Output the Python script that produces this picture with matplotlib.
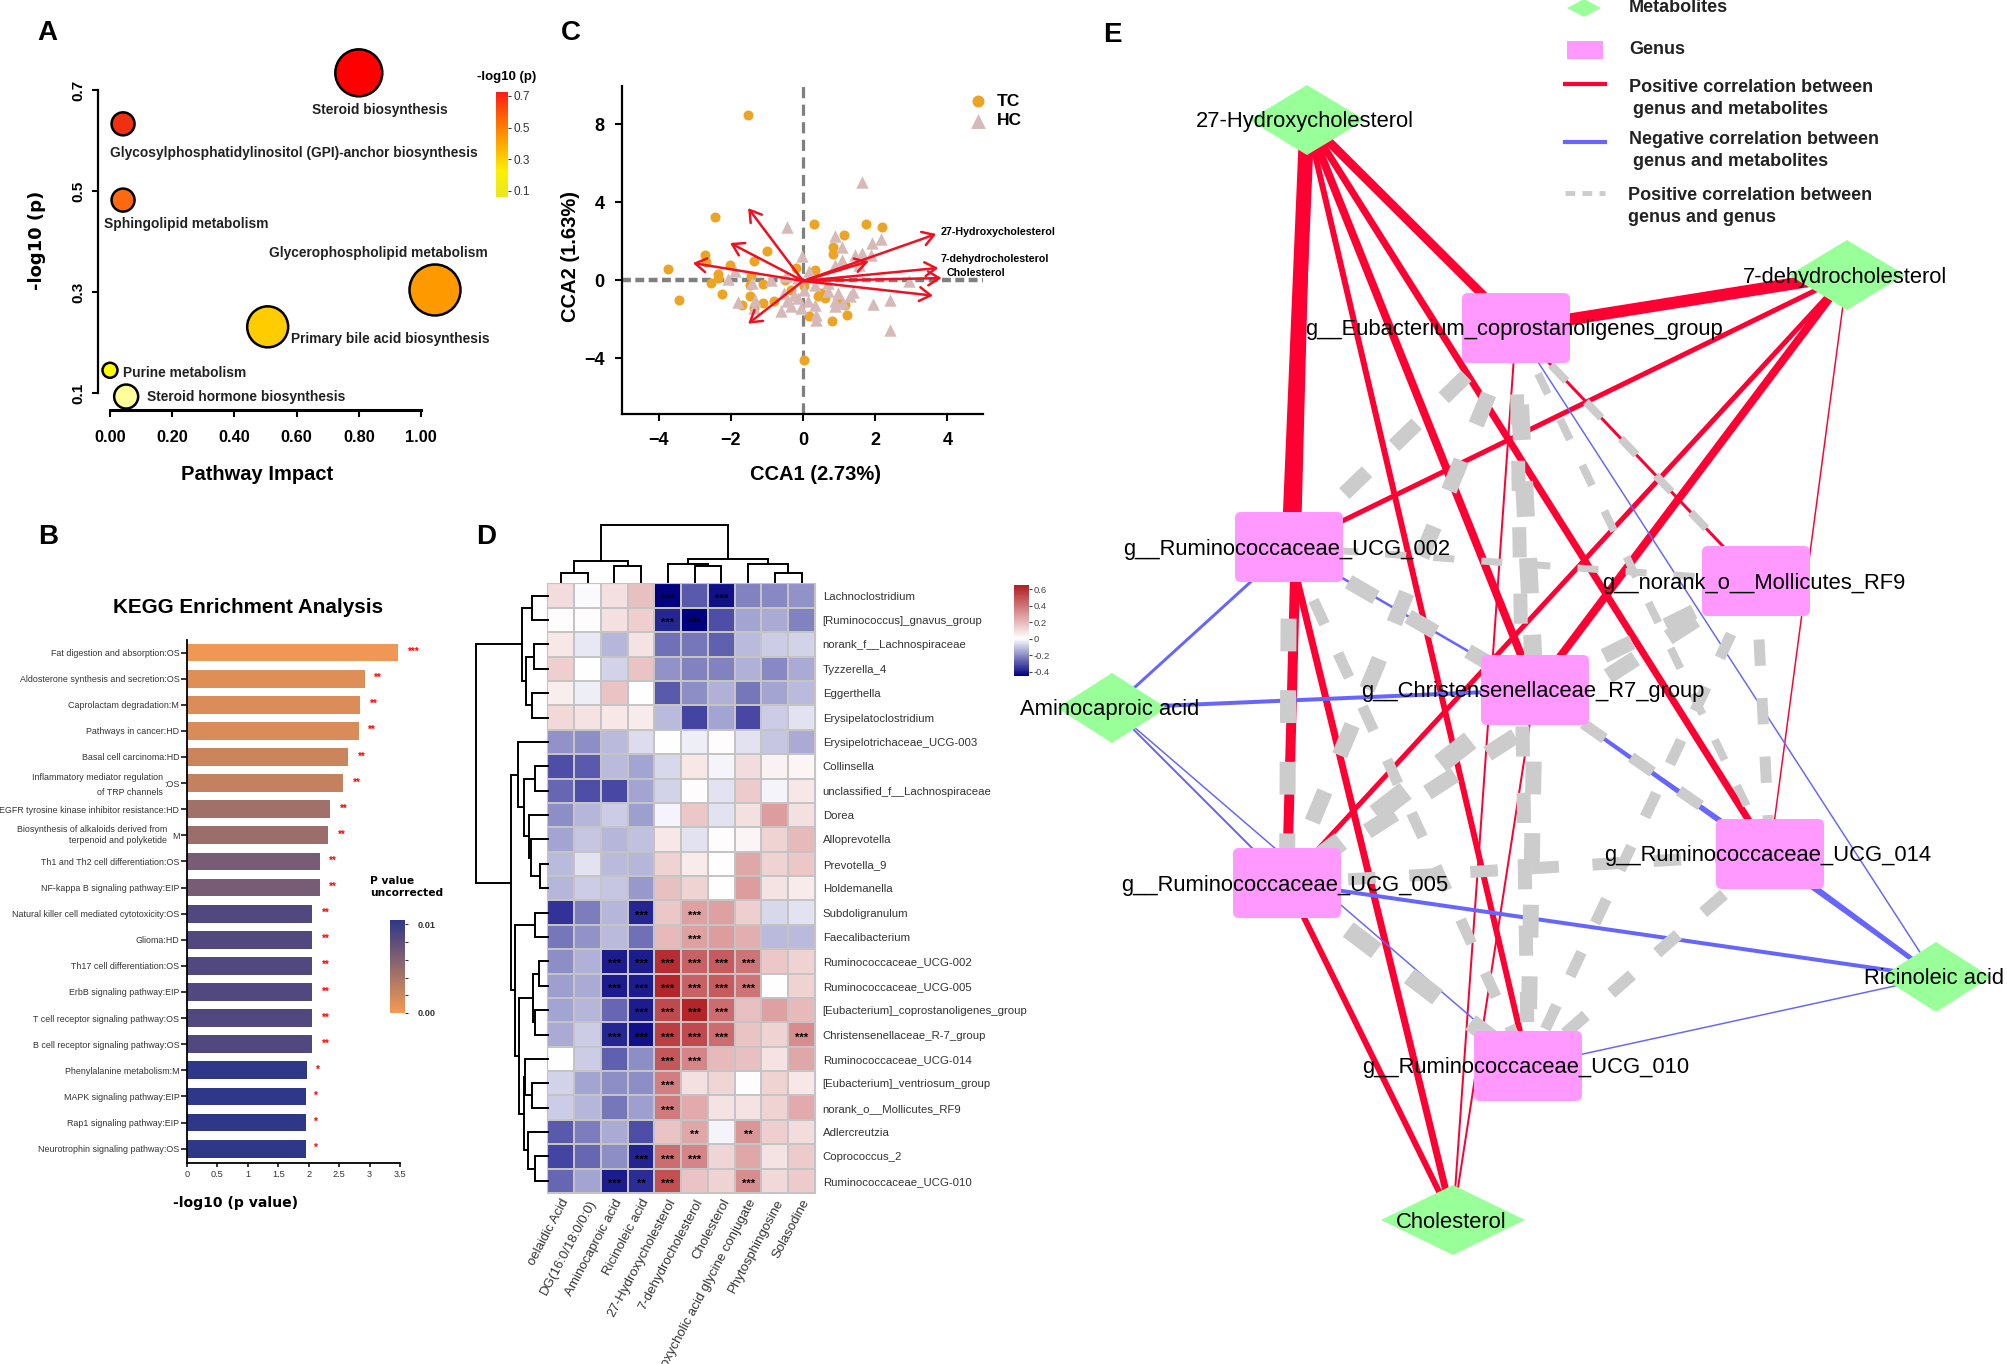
import numpy as np
import matplotlib
matplotlib.use("Agg")
import matplotlib.pyplot as plt
from matplotlib.cm import ScalarMappable
from matplotlib.colors import LinearSegmentedColormap, Normalize, TwoSlopeNorm
from matplotlib.patches import FancyBboxPatch, Polygon

W, H = 2008, 1364
plt.rcParams["font.family"] = ["Liberation Sans", "DejaVu Sans"]

# --- panel A
path_names = ["Steroid biosynthesis", "Glycosylphosphatidylinositol (GPI)-anchor biosynthesis",
              "Sphingolipid metabolism", "Glycerophospholipid metabolism",
              "Primary bile acid biosynthesis", "Purine metabolism", "Steroid hormone biosynthesis"]
path_impact = [0.80, 0.042, 0.042, 1.045, 0.507, 0.0, 0.052]
path_logp = [0.734, 0.633, 0.482, 0.304, 0.231, 0.145, 0.093]
path_diam = [47, 23, 23, 51, 41, 15, 24]
path_colors = ["#ff0000", "#f03010", "#ff6a10", "#ff9900", "#ffcc00", "#ffff00", "#ffff99"]
path_label_xy = [(312, 110), (110, 153), (104, 224), (269, 253), (291, 339), (123, 373), (147, 397)]

# --- panel B
kegg_names = ["Fat digestion and absorption:OS", "Aldosterone synthesis and secretion:OS",
              "Caprolactam degradation:M", "Pathways in cancer:HD", "Basal cell carcinoma:HD",
              ":OS", "EGFR tyrosine kinase inhibitor resistance:HD", "M",
              "Th1 and Th2 cell differentiation:OS", "NF-kappa B signaling pathway:EIP",
              "Natural killer cell mediated cytotoxicity:OS", "Glioma:HD",
              "Th17 cell differentiation:OS", "ErbB signaling pathway:EIP",
              "T cell receptor signaling pathway:OS", "B cell receptor signaling pathway:OS",
              "Phenylalanine metabolism:M", "MAPK signaling pathway:EIP",
              "Rap1 signaling pathway:EIP", "Neurotrophin signaling pathway:OS"]
kegg_values = [3.46, 2.92, 2.85, 2.82, 2.65, 2.57, 2.35, 2.32, 2.18, 2.18,
               2.06, 2.06, 2.06, 2.06, 2.06, 2.06, 1.98, 1.95, 1.95, 1.95]
kegg_stars = ["***"] + ["**"] * 15 + ["*"] * 4

# --- panel C
tc_x = [-1.52, -2.45, 0.30, 1.74, 2.19, 1.14, 0.82, 0.82, -0.99, -1.37, -2.72, -2.68, -2.02, -3.75,
        -2.36, -2.36, -2.55, -2.25, -3.43, -1.44, -1.46, -1.12, -0.49, -1.46, -1.70, -1.12, -1.37,
        -0.81, 0.02, 0.17, 0.81, 1.22, -0.19, 0.32, 0.51, 0.60, 0.97, 0.04, 0.41, -0.34, 1.16, 1.54]
tc_y = [8.44, 3.25, 2.87, 2.87, 2.72, 2.32, 1.69, 1.35, 1.47, 0.99, 1.30, 0.92, 0.75, 0.58,
        0.32, 0.10, -0.15, -0.72, -1.01, 0.19, -0.24, -0.19, -0.02, -0.80, -1.26, -1.18, -1.44,
        -1.09, -4.10, -1.86, -2.12, -1.78, 0.62, 0.50, -0.67, -0.92, -1.09, -0.32, -0.84, -0.50, -1.26, 0.96]
hc_x = [1.63, -0.43, 0.90, 2.17, 1.91, 1.07, -0.04, 1.87, 1.63, 1.44, 1.07, 0.88, 1.54, 0.17, -1.89,
        -2.08, -1.42, -0.90, -0.47, -0.15, 0.22, 2.94, 0.69, 0.32, 0.04, -0.52, -0.24, -0.43, -0.15,
        0.13, 0.69, 0.97, 1.39, 1.31, 0.88, 1.12, 0.88, 0.32, -0.34, -0.62, -1.80, -1.33, -1.37,
        1.95, 2.42, 2.42, 0.37, 0.37, -0.06]
hc_y = [5.03, 2.72, 2.27, 2.10, 1.90, 1.69, 1.21, 1.26, 1.38, 1.30, 1.04, 0.75, 0.79, 0.44, 0.44,
        0.05, -0.15, 0.02, 0.22, 0.10, 0.19, -0.03, -0.15, -0.24, -0.50, -0.67, -0.75, -1.09, -0.92,
        -1.09, -0.58, -0.67, -0.63, -0.80, -1.09, -1.18, -1.35, -1.26, -1.35, -1.61, -1.15, -1.01, -1.44,
        -1.23, -1.04, -2.55, -1.78, -2.03, -1.44]
arrow_x = [3.69, 3.75, 3.84, 3.60, -1.52, -2.02, -3.05, -1.52, 1.82]
arrow_y = [2.36, 0.62, 0.10, -0.80, 3.69, 1.90, 0.87, -2.24, 0.96]

# --- panel D
genus_rows = ["Lachnoclostridium", "[Ruminococcus]_gnavus_group", "norank_f__Lachnospiraceae", "Tyzzerella_4",
              "Eggerthella", "Erysipelatoclostridium", "Erysipelotrichaceae_UCG-003", "Collinsella",
              "unclassified_f__Lachnospiraceae", "Dorea", "Alloprevotella", "Prevotella_9", "Holdemanella",
              "Subdoligranulum", "Faecalibacterium", "Ruminococcaceae_UCG-002", "Ruminococcaceae_UCG-005",
              "[Eubacterium]_coprostanoligenes_group", "Christensenellaceae_R-7_group", "Ruminococcaceae_UCG-014",
              "[Eubacterium]_ventriosum_group", "norank_o__Mollicutes_RF9", "Adlercreutzia", "Coprococcus_2",
              "Ruminococcaceae_UCG-010"]
metab_cols = ["oelaidic Acid", "DG(16:0/18:0/0:0)", "Aminocaproic acid", "Ricinoleic acid",
              "27-Hydroxycholesterol", "7-dehydrocholesterol", "Cholesterol",
              "Deoxycholic acid glycine conjugate", "Phytosphingosine", "Solasodine"]
corr = np.array([
    [.10, -.01, .09, .18, -.45, -.29, -.42, -.22, -.21, -.19],
    [.01, .01, .09, .14, -.38, -.45, -.31, -.16, -.15, -.22],
    [.07, -.04, -.13, .08, -.25, -.24, -.28, -.12, -.09, -.08],
    [.14, 0, -.08, .17, -.19, -.22, -.22, -.14, -.21, -.15],
    [.05, -.03, .17, 0, -.29, -.20, -.14, -.24, -.16, -.12],
    [.11, .08, .07, .06, -.12, -.33, -.16, -.32, -.09, -.05],
    [-.19, -.20, -.12, -.06, 0, -.03, .01, -.05, -.10, -.15],
    [-.31, -.29, -.12, -.16, -.07, .07, -.02, .10, .04, .03],
    [-.27, -.31, -.32, -.16, -.08, .01, -.05, .15, -.02, .07],
    [-.20, -.13, -.09, -.17, -.02, .16, -.05, .09, .28, .09],
    [-.16, -.10, -.13, -.11, .07, -.05, .01, .03, .13, .20],
    [-.12, -.05, -.12, -.13, .13, .06, 0, .25, .13, .16],
    [-.13, -.09, -.10, -.18, .18, .13, 0, .28, .08, .06],
    [-.36, -.23, -.13, -.38, .16, .27, .27, .14, -.07, -.05],
    [-.24, -.19, -.12, -.25, .20, .27, .28, .23, -.12, -.12],
    [-.20, -.14, -.40, -.40, .60, .45, .47, .40, .16, .13],
    [-.17, -.15, -.40, -.40, .62, .45, .47, .40, 0, .13],
    [-.16, -.13, -.27, -.40, .52, .62, .42, .18, .27, .20],
    [-.15, -.09, -.38, -.42, .55, .52, .42, .17, .13, .33],
    [0, -.09, -.28, -.20, .48, .35, .20, .18, .08, .25],
    [-.08, -.16, -.20, -.20, .37, .09, .12, .01, .13, .07],
    [-.09, -.13, -.24, -.17, .38, .24, .08, .08, .13, .24],
    [-.29, -.23, -.15, -.31, .17, .25, -.02, .30, .14, .10],
    [-.33, -.27, -.20, -.39, .42, .35, .12, .25, .08, .15],
    [-.27, -.16, -.40, -.37, .50, .17, .13, .33, .11, .15],
])
# (row, column, stars)
sig_cells = [(0, 4, "***"), (0, 6, "***"), (1, 4, "***"), (1, 5, "***"), (13, 3, "***"), (13, 5, "***"),
             (14, 5, "***"), (15, 2, "***"), (15, 3, "***"), (15, 4, "***"), (15, 5, "***"), (15, 6, "***"),
             (15, 7, "***"), (16, 2, "***"), (16, 3, "***"), (16, 4, "***"), (16, 5, "***"), (16, 6, "***"),
             (16, 7, "***"), (17, 3, "***"), (17, 4, "***"), (17, 5, "***"), (17, 6, "***"), (18, 2, "***"),
             (18, 3, "***"), (18, 4, "***"), (18, 5, "***"), (18, 6, "***"), (18, 9, "***"), (19, 4, "***"),
             (19, 5, "***"), (20, 4, "***"), (21, 4, "***"), (22, 5, "**"), (22, 7, "**"), (23, 3, "***"),
             (23, 4, "***"), (23, 5, "***"), (24, 2, "***"), (24, 3, "**"), (24, 4, "***"), (24, 7, "***")]
# dendrogram merges: (child, child, height), new nodes are numbered after the leaves
col_merges = [(0, 1, 17), (2, 3, 30), (10, 11, 38), (5, 6, 30), (4, 13, 33), (8, 9, 17), (7, 15, 33),
              (14, 16, 43), (12, 17, 105)]
row_merges = [(0, 1, 40), (2, 3, 36), (4, 5, 40), (26, 27, 57), (25, 28, 66), (7, 8, 34), (11, 12, 19),
              (10, 31, 44), (9, 32, 48), (30, 33, 62), (6, 34, 77), (13, 14, 32), (15, 16, 21), (17, 18, 34),
              (37, 38, 39), (20, 21, 41), (19, 40, 59), (23, 24, 34), (22, 42, 52), (41, 43, 62), (39, 44, 74),
              (36, 45, 84), (35, 46, 96), (29, 47, 187)]

# --- panel E, layout in image pixels
metab_nodes = {"27-Hydroxycholesterol": (1307, 120), "7-dehydrocholesterol": (1847, 275),
               "Aminocaproic acid": (1112, 708), "Ricinoleic acid": (1936, 977), "Cholesterol": (1453, 1220)}
metab_halfw = [58, 58, 55, 55, 72]
genus_nodes = {"g__Eubacterium_coprostanoligenes_group": (1516, 328), "g__Ruminococcaceae_UCG_002": (1289, 547),
               "g__norank_o__Mollicutes_RF9": (1756, 581), "g__Christensenellaceae_R7_group": (1535, 690),
               "g__Ruminococcaceae_UCG_014": (1770, 854), "g__Ruminococcaceae_UCG_005": (1287, 883),
               "g__Ruminococcaceae_UCG_010": (1528, 1066)}
EU, R2, MO, CH, R14, R5, R10 = list(genus_nodes)
H27, D7, AM, RI, CO = list(metab_nodes)
red_edges = [(H27, EU, 9), (H27, R2, 15), (H27, R5, 10), (H27, CH, 8), (H27, R14, 7), (H27, R10, 6),
             (D7, EU, 12), (D7, R2, 5), (D7, R5, 5), (D7, CH, 8), (D7, R14, 1.5), (EU, MO, 3),
             (R2, CO, 7), (R5, CO, 6), (CH, CO, 2), (EU, CO, 2)]
blue_edges = [(AM, R2, 3), (AM, CH, 4), (AM, R5, 2), (AM, R10, 1.5), (R2, CH, 2.5), (CH, R14, 3),
              (CH, RI, 3), (R14, RI, 5), (EU, RI, 1.5), (R5, RI, 4), (R10, RI, 1.5)]
gray_edges = [(EU, R2, 15), (EU, R5, 16), (EU, CH, 18), (EU, R10, 14), (EU, R14, 8), (EU, MO, 8),
              (R2, MO, 7), (R2, CH, 15), (R2, R5, 16), (R2, R10, 11), (MO, CH, 15), (MO, R5, 16),
              (MO, R10, 11), (MO, R14, 11), (CH, R5, 20), (CH, R14, 11), (CH, R10, 16), (R5, R14, 12),
              (R5, R10, 18), (R14, R10, 12)]


def px_axes(x0, y0, x1, y1):
    return fig.add_axes([x0 / W, 1 - y1 / H, (x1 - x0) / W, (y1 - y0) / H])


def ptext(x, y, s, **kw):
    kw.setdefault("va", "center")
    return fig.text(x / W, 1 - y / H, s, **kw)


def draw_dendro(ax, merges, n, left=False):
    pos = list(np.arange(n) + 0.5)
    hgt = [0] * n
    for a, b, h in merges:
        xs, ys = [pos[a], pos[a], pos[b], pos[b]], [hgt[a], h, h, hgt[b]]
        if left:
            xs, ys = ys, xs
        ax.plot(xs, ys, color="black", lw=1.4, solid_joinstyle="miter", clip_on=False)
        pos.append((pos[a] + pos[b]) / 2)
        hgt.append(h)
    ax.axis("off")


fig = plt.figure(figsize=(W / 100, H / 100), dpi=100, facecolor="white")

for letter, lx, ly in [("A", 47, 33), ("B", 48, 537), ("C", 571, 33), ("D", 486, 537), ("E", 1112, 35)]:
    ptext(lx, ly, letter, fontsize=20, fontweight="bold", ha="center")

# A: pathway bubbles
ax = px_axes(110, 90, 421, 393)
ax.set_xlim(0, 1)
ax.set_ylim(0.1, 0.7)
ax.scatter(path_impact, path_logp, s=[(d * 0.72) ** 2 for d in path_diam], c=path_colors,
           edgecolors="black", linewidths=1.8, clip_on=False, zorder=3)
for s, (lx, ly) in zip(path_names, path_label_xy):
    ptext(lx, ly, s, fontsize=9.9, fontweight="bold", color="#222222")
for side in ["top", "right"]:
    ax.spines[side].set_visible(False)
ax.spines["left"].set_position(("outward", 8.6))
ax.spines["bottom"].set_position(("outward", 12))
ax.spines["left"].set_bounds(0.1, 0.7)
ax.spines["left"].set_linewidth(1.6)
ax.spines["bottom"].set_linewidth(2.2)
ax.set_xticks([0, 0.2, 0.4, 0.6, 0.8, 1.0], ["0.00", "0.20", "0.40", "0.60", "0.80", "1.00"],
              fontsize=11.8, fontweight="bold")
ax.set_yticks([0.1, 0.3, 0.5, 0.7], ["0.1", "0.3", "0.5", "0.7"], fontsize=11, fontweight="bold",
              rotation=90, va="center")
ax.tick_params(axis="x", length=5, width=1.5, pad=10)
ax.tick_params(axis="y", length=4, width=1.5, pad=5)
ptext(37, 240, "-log10 (p)", fontsize=13, fontweight="bold", rotation=90, ha="center", family="DejaVu Sans")
ptext(257, 475, "Pathway Impact", fontsize=14.5, fontweight="bold", ha="center")

cax = px_axes(496, 92, 508, 197)
cmap_a = LinearSegmentedColormap.from_list("a", ["#e8e820", "#ffee00", "#ffaa00", "#ff6600", "#ff1a1a"])
cb = fig.colorbar(ScalarMappable(Normalize(0.062, 0.725), cmap_a), cax=cax)
cb.outline.set_visible(False)
cb.set_ticks([0.1, 0.3, 0.5, 0.7], labels=["0.1", "0.3", "0.5", "0.7"], fontsize=8.5)
cb.ax.tick_params(length=2, pad=2, colors="#333333")
ptext(507, 77, "-log10 (p)", fontsize=9.5, fontweight="bold", ha="center")

# B: KEGG bars
ax = px_axes(187, 640, 400, 1163)
kegg_norm = Normalize(0, 0.0105)
cmap_b = LinearSegmentedColormap.from_list("b", ["#f59a52", "#2f3788"])
ypos = np.arange(len(kegg_values))
kegg_p = 10.0 ** (-np.array(kegg_values))
ax.barh(ypos, kegg_values, height=0.68, color=cmap_b(kegg_norm(kegg_p)))
for y, v, st in zip(ypos, kegg_values, kegg_stars):
    ax.text(v + 0.12 + 0.05 * len(st), y - 0.02, st, color="red", fontsize=7, fontweight="bold",
            ha="center", va="center")
ax.set_xlim(0, 3.5)
ax.set_ylim(19.55, -0.48)
ax.set_yticks(ypos, kegg_names, fontsize=6.4, color="#333333")
ax.set_xticks([0, 0.5, 1, 1.5, 2, 2.5, 3, 3.5], ["0", "0.5", "1", "1.5", "2", "2.5", "3", "3.5"],
              fontsize=6.6, color="#333333")
ax.tick_params(axis="y", length=4.3, width=1.1, pad=1.2)
ax.tick_params(axis="x", length=3, width=1.1, pad=2)
for side in ["top", "right"]:
    ax.spines[side].set_visible(False)
for side in ["left", "bottom"]:
    ax.spines[side].set_linewidth(1.3)
ptext(163, 785, "Inflammatory mediator regulation\nof TRP channels", fontsize=6.4, ha="right",
      color="#333333", linespacing=1.9)
ptext(167, 835, "Biosynthesis of alkaloids derived from\nterpenoid and polyketide", fontsize=6.4, ha="right",
      color="#333333", linespacing=1.15)
ptext(248, 607, "KEGG Enrichment Analysis", fontsize=14.9, fontweight="bold", ha="center")
ptext(236, 1203, "-log10 (p value)", fontsize=10.1, fontweight="bold", ha="center", family="DejaVu Sans")
ptext(370, 887, "P value\nuncorrected", fontsize=7.7, fontweight="bold", family="DejaVu Sans")

cax = px_axes(390, 920, 405, 1013)
cb = fig.colorbar(ScalarMappable(kegg_norm, cmap_b), cax=cax)
cb.outline.set_visible(False)
cb.set_ticks([0, 0.002, 0.004, 0.006, 0.008, 0.01], labels=["0.00", "", "", "", "", "0.01"],
             fontsize=6.6, fontweight="bold")
cb.ax.tick_params(length=2, pad=7, colors="#333333")

# C: CCA scatter
ax = px_axes(622.5, 86, 983.5, 414)
ax.set_xlim(-5, 5)
ax.set_ylim(-6.87, 9.95)
ax.axhline(0, color="#808080", lw=3.2, ls=(0, (2, 1)), zorder=1)
ax.axvline(0, color="#808080", lw=2.3, ls=(0, (3.5, 2)), zorder=1)
ax.scatter(tc_x, tc_y, s=52, c="#eba423", linewidths=0, label="TC", zorder=2)
ax.scatter(hc_x, hc_y, s=80, c="#d7b9b9", marker="^", linewidths=0, label="HC", zorder=3)
for ex, ey in zip(arrow_x, arrow_y):
    ax.annotate("", xy=(ex, ey), xytext=(0, -0.05), zorder=4,
                arrowprops=dict(arrowstyle="->,head_length=0.8,head_width=0.5", color="#f01020", lw=1.8,
                                shrinkA=0, shrinkB=0))
for s, tx, ty in [("27-Hydroxycholesterol", 3.82, 2.46), ("7-dehydrocholesterol", 3.82, 1.07),
                  ("Cholesterol", 3.97, 0.36)]:
    ax.text(tx, ty, s, fontsize=7.7, fontweight="bold", va="center", clip_on=False)
for side in ["top", "right"]:
    ax.spines[side].set_visible(False)
for side in ["left", "bottom"]:
    ax.spines[side].set_linewidth(1.6)
ax.set_xticks([-4, -2, 0, 2, 4])
ax.set_yticks([-4, 0, 4, 8])
ax.tick_params(length=5, width=1.5, pad=8, labelsize=13)
for t in ax.get_xticklabels() + ax.get_yticklabels():
    t.set_fontweight("bold")
ax.legend(loc="center left", bbox_to_anchor=(952 / W, 1 - 111 / H), bbox_transform=fig.transFigure,
          frameon=False, markerscale=1.2, handletextpad=0.1, labelspacing=0.25, borderpad=0,
          prop=dict(weight="bold", size=12.5))
ptext(571, 256, "CCA2 (1.63%)", fontsize=14.5, fontweight="bold", rotation=90, ha="center")
ptext(816, 475, "CCA1 (2.73%)", fontsize=14.5, fontweight="bold", ha="center")

# D: heatmap
ax = px_axes(547.5, 583.5, 815, 1193)
cmap_d = LinearSegmentedColormap.from_list("d", ["#000080", "white", "#b01c20"])
norm_d = TwoSlopeNorm(vmin=-0.45, vcenter=0, vmax=0.65)
ax.pcolormesh(np.arange(11), np.arange(26), corr, cmap=cmap_d, norm=norm_d, edgecolors="#c4c4c4", linewidth=1.1)
ax.set_ylim(25, 0)
for r, c, st in sig_cells:
    ax.text(c + 0.5, r + 0.62, st, fontsize=8, ha="center", va="center", color="black", fontweight="bold")
ax.set_yticks(np.arange(25) + 0.5, genus_rows, fontsize=8.2, color="#333333")
ax.yaxis.tick_right()
ax.set_xticks(np.arange(10) + 0.5, metab_cols, fontsize=9.5, color="#333333", rotation=62, ha="right",
              va="top", rotation_mode="anchor")
ax.tick_params(axis="y", length=0, pad=5.5)
ax.tick_params(axis="x", length=0, pad=3)
for sp in ax.spines.values():
    sp.set_color("#c4c4c4")

dax = px_axes(547.5, 525, 815, 582)
draw_dendro(dax, col_merges, 10)
dax.set_xlim(0, 10)
dax.set_ylim(0, 105)

dax = px_axes(476, 583.5, 547.5, 1193)
draw_dendro(dax, row_merges, 25, left=True)
dax.set_ylim(25, 0)
dax.set_xlim(187, 0)

cax = px_axes(1013.6, 584.6, 1029, 676)
grad = np.linspace(-0.45, 0.65, 200)
cax.pcolormesh([0, 1], np.append(grad, 0.655), grad[:, None], cmap=cmap_d, norm=norm_d)
cax.set_xticks([])
cax.yaxis.tick_right()
cax.set_yticks([-0.4, -0.2, 0, 0.2, 0.4, 0.6], ["-0.4", "-0.2", "0", "0.2", "0.4", "0.6"], fontsize=6.8)
cax.tick_params(length=2, pad=1, colors="#444444")
for sp in cax.spines.values():
    sp.set_visible(False)

# E: network, axes are in image pixels
ax = px_axes(1040, 0, 2008, 1364)
ax.set_xlim(1040, 2008)
ax.set_ylim(1364, 0)
ax.axis("off")
ax.patch.set_alpha(0)
nodes = {**metab_nodes, **genus_nodes}
RED, BLUE, GRAY = "#ff0033", "#6666ff", "#cccccc"
for a, b, w in red_edges:
    ax.plot(*zip(nodes[a], nodes[b]), color=RED, lw=w * 0.72, solid_capstyle="butt", zorder=2)
for a, b, w in blue_edges:
    ax.plot(*zip(nodes[a], nodes[b]), color=BLUE, lw=w * 0.72, solid_capstyle="butt", zorder=2)
for a, b, w in gray_edges:
    on, off = (12 + 1.3 * w) / w, (18 + 1.3 * w) / w
    ax.plot(*zip(nodes[a], nodes[b]), color=GRAY, lw=w * 0.72, ls=(0, (on, off)), dash_capstyle="butt", zorder=3)
for (nx, ny), hw in zip(metab_nodes.values(), metab_halfw):
    ax.add_patch(Polygon([(nx - hw, ny), (nx, ny - 35), (nx + hw, ny), (nx, ny + 35)], fc="#99ff99", ec="none", zorder=4))
for nx, ny in genus_nodes.values():
    ax.add_patch(FancyBboxPatch((nx - 50, ny - 31), 100, 62, boxstyle="round,pad=4,rounding_size=6",
                                fc="#ff99ff", ec="none", zorder=4))
for s, (nx, ny) in nodes.items():
    ax.text(nx - 2, ny + 2, s, fontsize=15.8, ha="center", va="center", color="black", zorder=5)

# E legend
ax.add_patch(Polygon([(1567, 8), (1584, -1), (1601, 8), (1584, 17)], fc="#99ff99", ec="none", clip_on=True))
ax.add_patch(Polygon([(1567, 41), (1603, 41), (1603, 59), (1567, 59)], fc="#ff99ff", ec="none"))
ax.plot([1565, 1605], [84, 84], color=RED, lw=3)
ax.plot([1565, 1605], [142, 142], color=BLUE, lw=3)
ax.plot([1565, 1605], [193, 193], color=GRAY, lw=3.5, ls=(0, (2, 1.5)))
legend_lines = [(1629, 8, "Metabolites"), (1629, 50, "Genus"), (1629, 88, "Positive correlation between"),
                (1633, 110, "genus and metabolites"), (1629, 140, "Negative correlation between"),
                (1633, 162, "genus and metabolites"), (1628, 195, "Positive correlation between"),
                (1628, 217, "genus and genus")]
for tx, ty, s in legend_lines:
    ptext(tx, ty, s, fontsize=13, fontweight="bold", color="#222222")

fig.savefig("out.png", dpi=100)
